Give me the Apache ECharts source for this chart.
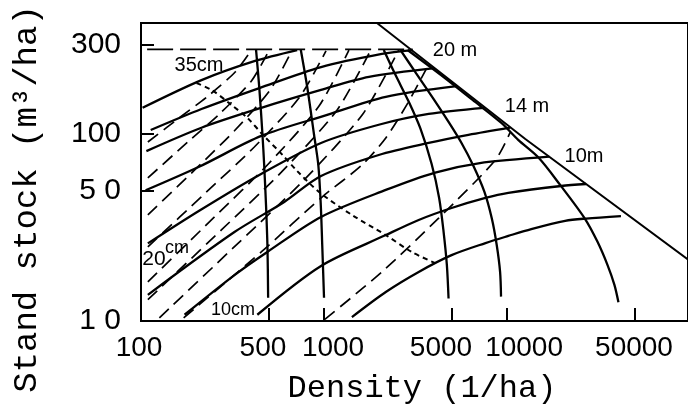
<!DOCTYPE html>
<html>
<head>
<meta charset="utf-8">
<script src="https://cdn.jsdelivr.net/npm/echarts@6/dist/echarts.min.js"></script>
<style>
html,body{margin:0;padding:0;background:#fff;}
#c{width:688px;height:418px;}
</style>
</head>
<body>
<div id="c"></div>
<script>
// ---- axis ticks ----
const densityTicks = [100, 500, 1000, 5000, 10000, 50000];
const densityTickMarks = [500, 1000, 5000, 10000, 50000];
const stockTicks = [10, 50, 100, 300];
const stockTickLabels = ['1 0', '5 0', '100', '300'];
const stockTickMarks = [50, 100, 300];

// ---- full density line and stock ceiling ----
const fullDensityLine = [[1900, 399], [12580, 94], [100000, 20.9]];
const stockCeiling = [[108, 283], [3050, 283]];

// ---- natural thinning curves (solid, falling) ----
const thin1 = [[425,283],[443,176],[461,99],[471,68],[482,41.7],[491,24.5],[495,13.3]];
const thin2 = [[746,283],[811,176],[882,99],[931,68],[960,41.7],[979,24.5],[1000,13.3]];
const thin3 = [[2120,281],[2455,207],[2900,149],[3360,107],[3872,69.1],[4255,45.5],[4500,30],[4690,19.9],[4790,13.2]];
const thin4 = [[2616,281],[3187,211],[3946,155],[4790,116],[5638,89.5],[6553,67.4],[7522,49],[8250,35.4],[8780,25.5],[9160,18.3],[9270,13.5]];
const thin5 = [[2860,281],[4340,207],[6480,152],[9310,114.5],[11500,93],[14800,75],[19500,53.4],[26500,35.5],[31200,26.5],[35400,19.9],[38600,15.6],[40600,12.6]];

// ---- equal height curves (solid, rising) ----
const height22 = [[102,138],[214,194],[416,245],[713,281]];
const height20 = [[113,105],[214,136],[443,176],[963,228],[2070,268],[3040,281]];
const height18 = [[107,81],[214,108],[454,138],[963,172],[1760,202],[4030,225]];
const height16 = [[106,50],[209,67],[454,97.6],[1000,125],[2175,158],[5300,180]];
const height14 = [[109,26],[209,39],[443,60.4],[963,89.5],[1990,112],[3730,128],[7500,138]];
const height12 = [[109,13.8],[324,29.9],[606,43.3],[963,59.6],[1990,77.2],[3730,89.5],[6150,98.8],[10400,108]];
const height10 = [[173,10.8],[324,17.6],[490,23.4],[963,36],[2175,50.2],[4050,62.2],[6980,69.7],[17000,75.6]];
const height8 = [[432,10.8],[963,19.7],[2175,28.8],[3290,34.7],[4975,40.2],[7620,45.5],[10160,48.4],[19750,52.7],[27000,54]];
const height6 = [[1420,10.5],[2175,14.3],[3290,18.3],[4975,22.5],[7620,26.1],[10160,28.5],[13560,31.0],[20770,34.3],[27000,35.3],[41900,36.4]];

// ---- equal mean diameter lines (dashed) ----
const dbh8 = [[1010,10.2],[2070,18.3],[4230,35.5],[8640,72.6],[10400,102]];
const dbh10 = [[171,10.4],[454,23.4],[975,46],[1610,68.2],[2175,95.2],[2830,143],[3640,225]];
const dbh12 = [[126,10.4],[340,26.1],[769,56.1],[1630,128],[2560,281]];
const dbh14 = [[109,13],[275,30.7],[583,62.3],[1177,134],[1800,281]];
const dbh16 = [[109,16.2],[252,36],[496,69.1],[939,141],[1368,281]];
const dbh20 = [[109,24.9],[228,49],[416,85.2],[731,156],[1025,278]];
const dbh25 = [[109,36.9],[199,65],[324,104],[508,172],[670,281]];
const dbh30 = [[109,58.2],[180,90.6],[272,129.5],[401,192],[502,281]];
const dbh35 = [[109,90.6],[167,124.8],[237,162],[328,215],[401,281]];

// ---- dotted curve ----
const dottedCurve = [[201,187],[243,172],[312,143],[381,122],[463,99],[595,77],[713,63.4],[939,49],[1420,36.9],[2175,28.8],[3010,23.4],[4050,20.4]];

const chart = echarts.init(document.getElementById('c'), null, {renderer: 'canvas'});

function lineSeries(data, width, type, smooth) {
  return {
    type: 'line', data: data, showSymbol: false, symbol: 'none',
    smooth: smooth, silent: true, animation: false, z: 3,
    lineStyle: {color: '#000', width: width, type: type, cap: 'butt'}
  };
}

const solidSets = [thin1, thin2, thin3, thin4, thin5,
  height22, height20, height18, height16, height14, height12, height10, height8, height6];
const dashedSets = [dbh8, dbh10, dbh12, dbh14, dbh16, dbh20, dbh25, dbh30, dbh35];

const series = [];
series.push(lineSeries(fullDensityLine, 2, 'solid', false));
series.push(lineSeries(stockCeiling, 1.8, [26, 7], false));
solidSets.forEach(d => series.push(lineSeries(d, 2.3, 'solid', 0.3)));
dashedSets.forEach(d => series.push(lineSeries(d, 1.7, [13, 7], 0.25)));
series.push(lineSeries(dottedCurve, 2, [5, 4], 0.3));

const textFont = 'Liberation Sans';
const monoFont = 'Liberation Mono';

function xRich(padding) {
  return {fontSize: 28, fontFamily: textFont, color: '#000', padding: padding};
}

chart.setOption({
  animation: false,
  backgroundColor: '#fff',
  grid: {left: 141, right: -2, top: 23, bottom: 97, show: true, borderColor: '#000', borderWidth: 2, containLabel: false},
  xAxis: {
    type: 'log', logBase: 10, min: 100, max: 97400,
    axisLine: {show: false}, splitLine: {show: false},
    axisTick: {show: true, inside: true, length: 13, lineStyle: {color: '#000', width: 2}, customValues: densityTickMarks},
    axisLabel: {show: true, customValues: densityTicks, color: '#000', fontSize: 28, fontFamily: textFont, margin: 13,
      formatter: v => { const r = Math.round(v); return '{p' + r + '|' + r + '}'; },
      rich: {
        p100: xRich([0, 4, 0, 0]),
        p500: xRich([0, 12, 0, 0]),
        p1000: xRich([0, 0, 0, 18]),
        p5000: xRich([0, 22, 0, 0]),
        p10000: xRich([0, 0, 0, 34]),
        p50000: xRich([0, 2, 0, 0])
      }}
  },
  yAxis: {
    type: 'log', logBase: 10, min: 10, max: 392,
    axisLine: {show: false}, splitLine: {show: false},
    axisTick: {show: true, inside: true, length: 13, lineStyle: {color: '#000', width: 2}, customValues: stockTickMarks},
    axisLabel: {show: true, customValues: stockTicks, color: '#000', fontSize: 30, fontFamily: textFont, margin: 20,
      formatter: v => { const i = stockTicks.findIndex(t => Math.abs(t - v) / t < 1e-4); return i >= 0 ? stockTickLabels[i] : ''; }}
  },
  series: series,
  graphic: [
    {type: 'text', x: 422, y: 389, style: {text: 'Density (1/ha)', font: '32px "' + monoFont + '"', fill: '#000', textAlign: 'center', textVerticalAlign: 'middle'}},
    {type: 'text', x: 27, y: 199, rotation: Math.PI / 2, style: {text: 'Stand stock (m³/ha)', font: '34px "' + monoFont + '"', fill: '#000', textAlign: 'center', textVerticalAlign: 'middle'}},
    {type: 'text', x: 455, y: 50, style: {text: '20 m', font: '20px "' + textFont + '"', fill: '#000', textAlign: 'center', textVerticalAlign: 'middle'}},
    {type: 'text', x: 527, y: 106, style: {text: '14 m', font: '20px "' + textFont + '"', fill: '#000', textAlign: 'center', textVerticalAlign: 'middle'}},
    {type: 'text', x: 584, y: 156, style: {text: '10m', font: '20px "' + textFont + '"', fill: '#000', textAlign: 'center', textVerticalAlign: 'middle'}},
    {type: 'text', x: 199, y: 65, style: {text: '35cm', font: '20px "' + textFont + '"', fill: '#000', textAlign: 'center', textVerticalAlign: 'middle'}},
    {type: 'text', x: 154, y: 259, style: {text: '20', font: '21px "' + textFont + '"', fill: '#000', textAlign: 'center', textVerticalAlign: 'middle'}},
    {type: 'text', x: 177, y: 248, style: {text: 'cm', font: '18px "' + textFont + '"', fill: '#000', textAlign: 'center', textVerticalAlign: 'middle'}},
    {type: 'text', x: 233, y: 310, style: {text: '10cm', font: '18px "' + textFont + '"', fill: '#000', textAlign: 'center', textVerticalAlign: 'middle'}}
  ]
});
</script>
</body>
</html>
